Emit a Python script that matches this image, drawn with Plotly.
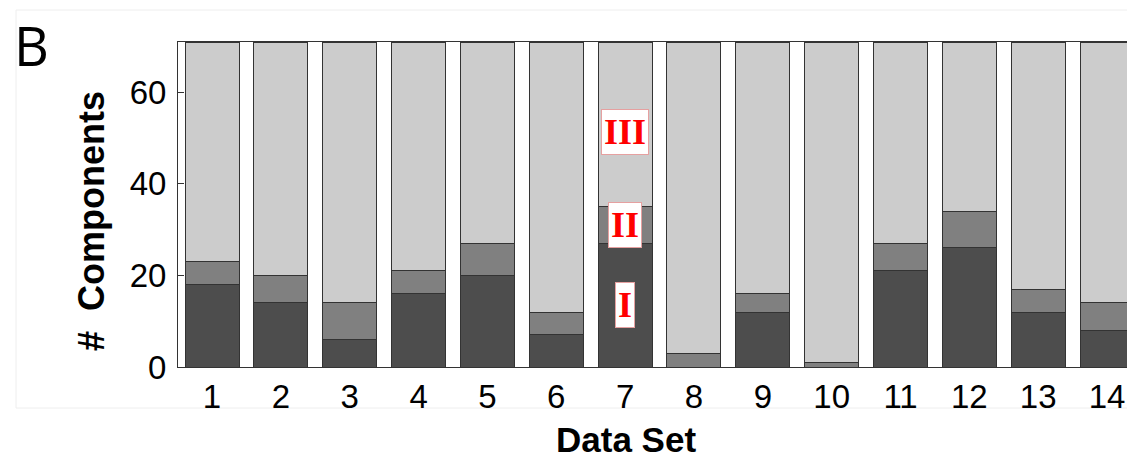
import plotly.graph_objects as go

# ---- data ----
data_sets = list(range(1, 15))
comp_I = [18, 14, 6, 16, 20, 7, 27, 0, 12, 0, 21, 26, 12, 8]
comp_II = [5, 6, 8, 5, 7, 5, 8, 3, 4, 1, 6, 8, 5, 6]
total = 71
comp_III = [total - a - b for a, b in zip(comp_I, comp_II)]
tick_labels = [str(d) for d in data_sets]
y_ticks = [0, 20, 40, 60]

# page body has an 8px margin, so the figure is drawn 8px smaller
W, H = 1127, 451
ML, MR, MT, MB = 170, 0, 34, 92
PW = W - ML - MR
PH = H - MT - MB


def px_x(px):
    return (px - ML) / PW


def px_y(py):
    return (H - MB - py) / PH


fig = go.Figure()
line_style = dict(color="#333333", width=1)
for vals, col, name in [(comp_I, "#4d4d4d", "I"), (comp_II, "#808080", "II"), (comp_III, "#cccccc", "III")]:
    fig.add_trace(go.Bar(x=data_sets, y=vals, name=name, marker=dict(color=col, line=line_style)))

# annotation labels on data set 7
k = data_sets.index(7)
lab_y = {
    "I": comp_I[k] / 2,
    "II": comp_I[k] + comp_II[k] / 2,
    "III": comp_I[k] + comp_II[k] + comp_III[k] / 2 - 1.7,
}
for txt, yy in lab_y.items():
    fig.add_annotation(x=7, y=yy, text=txt, showarrow=False,
                       font=dict(family="Liberation Serif, Times New Roman, serif", size=36, color="#ff0000", weight="bold"),
                       bgcolor="white", bordercolor="#e6a0a0", borderwidth=1, borderpad=2)

# panel letter
fig.add_annotation(xref="paper", yref="paper", x=px_x(4), y=px_y(-2),
                   xanchor="left", yanchor="top", text="B", showarrow=False,
                   font=dict(family="Open Sans, sans-serif", size=54, color="black"))

# axis titles
fig.add_annotation(xref="paper", yref="paper", x=px_x(618), y=px_y(431),
                   xanchor="center", yanchor="middle", text="<b>Data Set</b>", showarrow=False,
                   font=dict(size=35, color="black"))
fig.add_annotation(xref="paper", yref="paper", x=px_x(83), y=px_y(213),
                   xanchor="center", yanchor="middle", text="<b>#  Components</b>", showarrow=False,
                   textangle=-90, font=dict(size=36, color="black"))

# faint outer frame
fig.add_shape(type="rect", xref="paper", yref="paper",
              x0=px_x(8), x1=1.2, y0=px_y(400), y1=px_y(2),
              line=dict(color="#eeeeee", width=1), fillcolor="rgba(0,0,0,0)", layer="below")

fig.update_layout(
    width=W, height=H, barmode="stack", bargap=0.216,
    margin=dict(l=ML, r=MR, t=MT, b=MB, pad=0),
    plot_bgcolor="white", paper_bgcolor="white", showlegend=False,
    font=dict(family="Liberation Sans, Arial, sans-serif", color="black"),
)
fig.update_xaxes(range=[0.506, 0.506 + PW / 68.85], tickvals=data_sets, ticktext=tick_labels,
                 showline=True, linecolor="#333333", linewidth=1, mirror=True,
                 ticks="", tickfont=dict(size=33), showgrid=False, zeroline=False)
fig.update_yaxes(range=[0, total], tickvals=y_ticks,
                 showline=True, linecolor="#333333", linewidth=1, mirror=True,
                 ticks="inside", ticklen=6, tickcolor="#333333", ticklabelstandoff=4,
                 tickfont=dict(size=33), showgrid=False, zeroline=False)

fig.write_html("out.html")
